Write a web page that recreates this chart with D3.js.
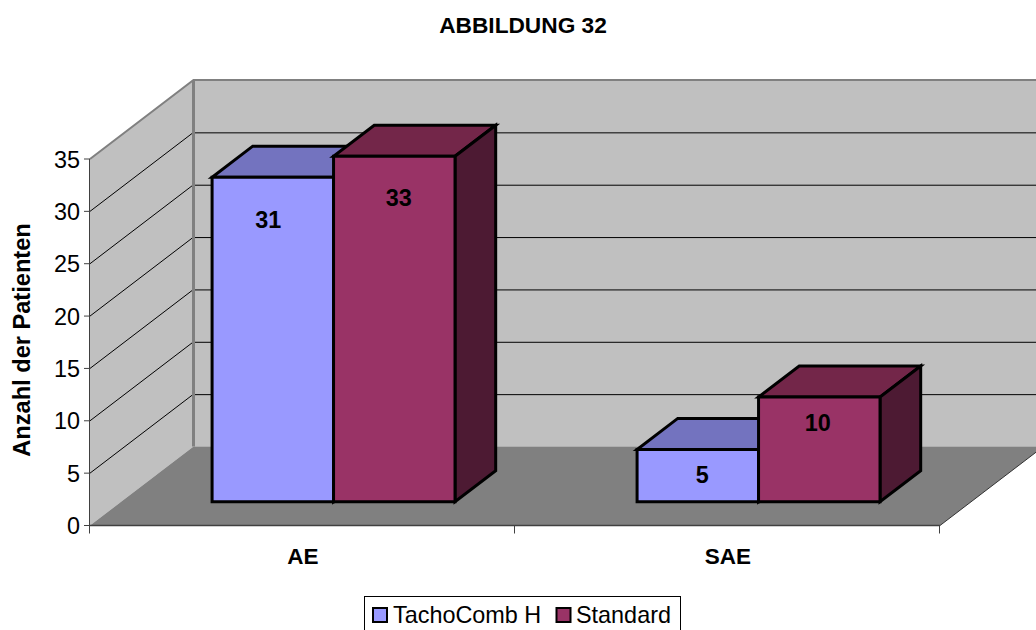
<!DOCTYPE html>
<html><head><meta charset="utf-8">
<script src="https://cdn.jsdelivr.net/npm/d3@7"></script>
<style>html,body{margin:0;padding:0;background:#fff;overflow:hidden}svg{display:block}text{font-family:"Liberation Sans",Arial,sans-serif;fill:#000}</style>
</head><body>
<svg id="c" width="1036" height="630"></svg>
<script>
const title = "ABBILDUNG 32";
const yTitle = "Anzahl der Patienten";
const categories = ["AE","SAE"];
const seriesNames = ["TachoComb H","Standard"];
const tachoComb = [31,5];
const standard = [33,10];
const yTicks = [0,5,10,15,20,25,30,35];
const front = ["#9999FF","#993366"], top_ = ["#7373BF","#732649"], side = ["#4D4D80","#4D1A33"];

const svg = d3.select("#c");
const W = 1036, H = 630;
const x0 = 90, x1 = 940, yB = 525.5, yT = 159;
const depth = {dx:103.5, dy:-79};
const y = d3.scaleLinear().domain([0,35]).range([yB,yT]);
const cat = d3.scaleBand().domain(categories).range([x0,x1]);
const barW = cat.bandwidth()*0.2858;
const pad = (cat.bandwidth()-2*barW)/2;
const P = (px,val,z)=>[px+depth.dx*z, y(val)+depth.dy*z];
const path = pts=>"M"+pts.map(p=>p.join(",")).join("L")+"Z";

// walls and floor
svg.append("path").attr("d",path([P(x0,0,0),P(x0,35,0),P(x0,35,1),P(x0,0,1)])).attr("fill","#C0C0C0");
svg.append("path").attr("d",path([P(x0,0,1),P(x0,35,1),P(x1+100,35,1),P(x1+100,0,1)])).attr("fill","#C0C0C0");
svg.append("path").attr("d",path([P(x0,0,0),P(x1,0,0),P(x1,0,1),P(x0,0,1)])).attr("fill","#808080");

// gridlines
yTicks.filter(t=>t>0&&t<35).forEach(t=>{
  const a=P(x0,t,0), b=P(x0,t,1);
  svg.append("line").attr("x1",a[0]).attr("y1",a[1]).attr("x2",b[0]).attr("y2",b[1]).attr("stroke","#000").attr("stroke-width",1);
  svg.append("line").attr("x1",b[0]).attr("y1",b[1]+0.5).attr("x2",W).attr("y2",b[1]+0.5).attr("stroke","#000").attr("stroke-width",1);
});
// wall edges
const g1=P(x0,35,0), g2=P(x0,35,1), g3=P(x0,0,1);
svg.append("polyline").attr("points",[g1,g2,[W,g2[1]]].map(p=>p.join(",")).join(" ")).attr("fill","none").attr("stroke","#808080").attr("stroke-width",2);
svg.append("line").attr("x1",g2[0]).attr("y1",g2[1]).attr("x2",g3[0]).attr("y2",g3[1]).attr("stroke","#808080").attr("stroke-width",3);

// axes lines
svg.append("line").attr("x1",x0-0.5).attr("y1",yT).attr("x2",x0-0.5).attr("y2",yB).attr("stroke","#404040").attr("stroke-width",1);
svg.append("line").attr("x1",x0).attr("y1",yB).attr("x2",x1).attr("y2",yB).attr("stroke","#404040").attr("stroke-width",1.5);
const fr=P(x1,0,0), bk=P(x1,0,1);
svg.append("line").attr("x1",fr[0]).attr("y1",fr[1]).attr("x2",bk[0]).attr("y2",bk[1]).attr("stroke","#333").attr("stroke-width",1);

yTicks.forEach(t=>{
  svg.append("line").attr("x1",x0-6).attr("x2",x0).attr("y1",y(t)).attr("y2",y(t)).attr("stroke","#404040");
  svg.append("text").attr("x",x0-10).attr("y",y(t)+8.5).attr("text-anchor","end").attr("font-size",23.4).text(t);
});
[...categories.map(c=>cat(c)),x1].forEach(px=>{
  svg.append("line").attr("x1",px-0.5).attr("x2",px-0.5).attr("y1",yB).attr("y2",yB+8).attr("stroke","#404040");
});
categories.forEach(c=>{
  svg.append("text").attr("x",cat(c)+cat.bandwidth()/2+0.5).attr("y",564).attr("text-anchor","middle").attr("font-size",22.5).attr("font-weight","bold").text(c);
});

// bars
const zA=0.3, zB=0.693;
const series=[tachoComb,standard];
const drawBar=(ci,si)=>{
  const v=series[si][ci];
  const bx=cat(categories[ci])+pad+si*barW;
  const ex=bx+barW;
  const g=svg.append("g").attr("stroke","#000").attr("stroke-width",3).attr("stroke-linejoin","miter");
  g.append("path").attr("d",path([P(bx,v,zA),P(ex,v,zA),P(ex,v,zB),P(bx,v,zB)])).attr("fill",top_[si]);
  g.append("path").attr("d",path([P(ex,0,zA),P(ex,v,zA),P(ex,v,zB),P(ex,0,zB)])).attr("fill",side[si]);
  g.append("path").attr("d",path([P(bx,0,zA),P(ex,0,zA),P(ex,v,zA),P(bx,v,zA)])).attr("fill",front[si]);
};
categories.forEach((c,ci)=>{drawBar(ci,0);drawBar(ci,1);});
// label nudges from each bar's front-top centre: [category][series]
const labelDx=[[-4.5,4.5],[4.5,-1.5]], labelDy=[[50.5,50],[33.5,33.5]];
categories.forEach((c,ci)=>{
  [0,1].forEach(si=>{
    const v=series[si][ci];
    const bx=cat(c)+pad+si*barW;
    const p=P(bx+barW/2,v,zA);
    svg.append("text").attr("x",p[0]+labelDx[ci][si]).attr("y",p[1]+labelDy[ci][si]).attr("text-anchor","middle").attr("font-size",23.4).attr("font-weight","bold").text(v);
  });
});

// title
svg.append("text").attr("x",523).attr("y",32.5).attr("text-anchor","middle").attr("font-size",22.7).attr("font-weight","bold").text(title);
svg.append("text").attr("transform","translate(30,340) rotate(-90)").attr("text-anchor","middle").attr("font-size",23.6).attr("font-weight","bold").text(yTitle);

// legend
svg.append("rect").attr("x",364.5).attr("y",596.5).attr("width",316).attr("height",40).attr("fill","#fff").attr("stroke","#000");
const lx=[373,556.5], tx=[393,576];
seriesNames.forEach((n,i)=>{
  svg.append("rect").attr("x",lx[i]).attr("y",608).attr("width",14).attr("height",14).attr("fill",front[i]).attr("stroke","#000").attr("stroke-width",2);
  svg.append("text").attr("x",tx[i]).attr("y",623).attr("font-size",23.4).text(n);
});
</script>
</body></html>
